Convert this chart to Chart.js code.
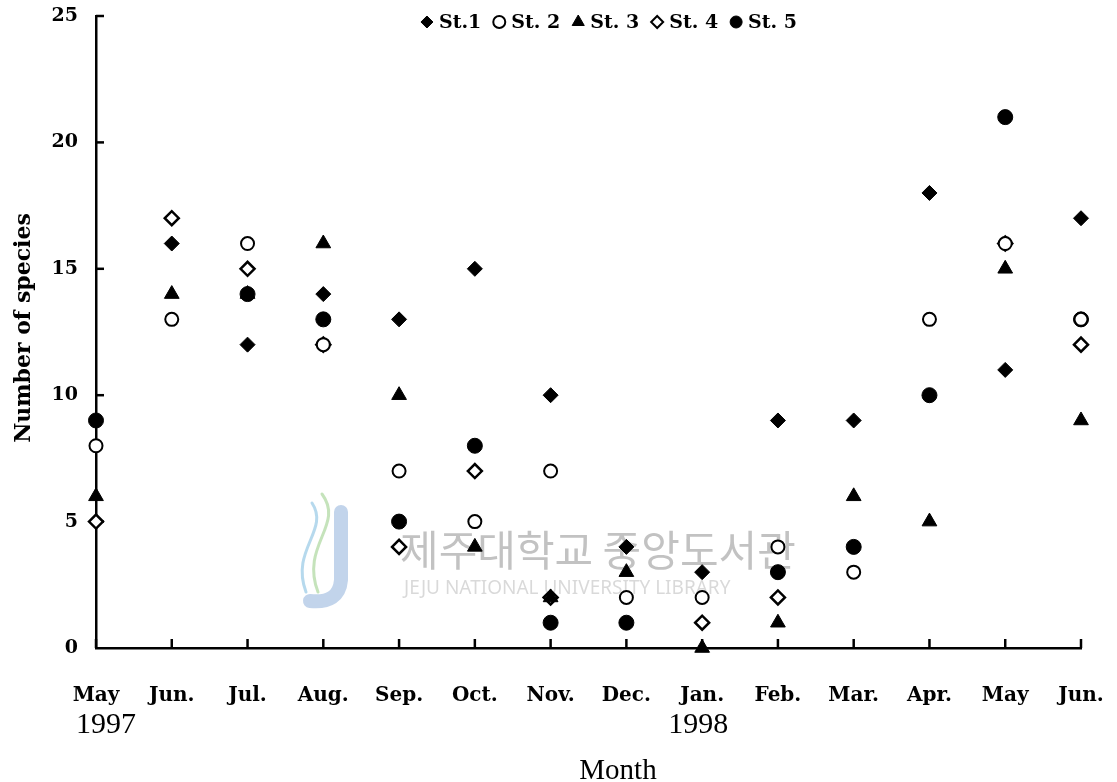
<!DOCTYPE html>
<html>
<head>
<meta charset="utf-8">
<script src="https://cdn.jsdelivr.net/npm/chart.js@4/dist/chart.umd.min.js"></script>
<style>
  html, body { margin: 0; padding: 0; background: #fff; }
  #wrap { width: 1117px; height: 782px; position: relative; }
</style>
</head>
<body>
<div id="wrap"><canvas id="chart"></canvas></div>
<script>
const months = ['May', 'Jun.', 'Jul.', 'Aug.', 'Sep.', 'Oct.', 'Nov.', 'Dec.', 'Jan.', 'Feb.', 'Mar.', 'Apr.', 'May', 'Jun.'];
const years = [['1997', 0], ['1998', 8]];
const yTicks = [0, 5, 10, 15, 20, 25];
const st1 = [null, 16, 12, 14, 13, 15, 10, 4, 3, 9, 9, 18, 11, 17];
const st2 = [8, 13, 16, 12, 7, 5, 7, 2, 2, 4, 3, 13, 16, 13];
const st3 = [6, 14, 14, 16, 10, 4, 2, 3, 0, 1, 6, 5, 15, 9];
const st4 = [5, 17, 15, 12, 4, 7, 2, null, 1, 2, null, null, 16, 12];
const st5 = [9, null, 14, 13, 5, 8, 1, 1, null, 3, 4, 10, 21, 13];

function series(label, data, style, radius, fill, bw) {
    return {
        label, data, showLine: false, clip: false,
        pointStyle: style, pointRadius: radius, pointHoverRadius: radius,
        pointBackgroundColor: fill, pointBorderColor: '#000', pointBorderWidth: bw
    };
}

const datasets = [
    series('St.1', st1, 'rectRot', 7.5, '#000', 1),
    series('St. 2', st2, 'circle', 6.5, '#fff', 2),
    series('St. 3', st3, 'triangle', 8.5, '#000', 1),
    series('St. 4', st4, 'rectRot', 7, '#fff', 2.5),
    series('St. 5', st5, 'circle', 7.5, '#000', 1)
];

function symbol(ctx, ds, x, y, r) {
    const opts = { pointStyle: ds.pointStyle, radius: r, borderWidth: Math.min(ds.pointBorderWidth, 2), rotation: 0 };
    ctx.fillStyle = ds.pointBackgroundColor;
    ctx.strokeStyle = '#000';
    ctx.lineWidth = opts.borderWidth;
    if (Chart.helpers && Chart.helpers.drawPoint) {
        Chart.helpers.drawPoint(ctx, opts, x, y);
    } else {
        ctx.beginPath();
        ctx.arc(x, y, r, 0, Math.PI * 2);
        ctx.fill(); ctx.stroke();
    }
}

const decor = {
    id: 'decor',
    beforeDatasetsDraw(chart) {
        const { ctx, scales: { x, y }, chartArea: a } = chart;
        ctx.save();
        // library watermark
        ctx.lineCap = 'round';
        ctx.strokeStyle = 'rgba(120,160,210,0.45)';
        ctx.lineWidth = 14;
        ctx.beginPath();
        ctx.moveTo(341, 512);
        ctx.lineTo(341, 580);
        ctx.quadraticCurveTo(339, 604, 310, 601);
        ctx.stroke();
        ctx.lineWidth = 3;
        ctx.strokeStyle = 'rgba(140,200,120,0.5)';
        ctx.beginPath();
        ctx.moveTo(322, 494); ctx.bezierCurveTo(345, 525, 300, 545, 318, 592);
        ctx.stroke();
        ctx.strokeStyle = 'rgba(110,180,220,0.5)';
        ctx.beginPath();
        ctx.moveTo(312, 503); ctx.bezierCurveTo(330, 530, 290, 550, 306, 592);
        ctx.stroke();
        ctx.fillStyle = 'rgba(110,110,110,0.42)';
        ctx.font = '42px "Noto Sans CJK KR"';
        ctx.textBaseline = 'middle';
        ctx.fillText('제주대학교 중앙도서관', 400, 550);
        ctx.fillStyle = 'rgba(120,120,120,0.28)';
        ctx.font = '19px "Noto Sans"';
        ctx.fillText('JEJU NATIONAL UNIVERSITY LIBRARY', 404, 589);

        // inward tick marks
        ctx.strokeStyle = '#000';
        ctx.lineWidth = 2.5;
        ctx.lineCap = 'butt';
        months.forEach((m, i) => {
            const px = x.getPixelForValue(i);
            ctx.beginPath(); ctx.moveTo(px, a.bottom); ctx.lineTo(px, a.bottom - 9); ctx.stroke();
        });
        yTicks.forEach(v => {
            if (!v) return;
            const py = y.getPixelForValue(v);
            ctx.beginPath(); ctx.moveTo(a.left, py); ctx.lineTo(a.left + 8, py); ctx.stroke();
        });
        ctx.restore();
    },
    afterDraw(chart) {
        const { ctx, scales: { x } } = chart;
        ctx.save();
        ctx.fillStyle = '#000';
        ctx.textAlign = 'center';
        ctx.textBaseline = 'alphabetic';
        ctx.font = '30px "Liberation Serif"';
        years.forEach(([t, i]) => ctx.fillText(t, x.getPixelForValue(i) + (i === 0 ? 10 : -4), 733));
        ctx.font = '29px "Liberation Serif"';
        ctx.fillText('Month', 618, 779);

        ctx.save();
        ctx.translate(30, 328);
        ctx.rotate(-Math.PI / 2);
        ctx.font = 'bold 22px "DejaVu Serif"';
        ctx.fillText('Number of species', 0, 0);
        ctx.restore();

        // legend across the top of the plot
        ctx.font = 'bold 19px "DejaVu Serif"';
        ctx.textAlign = 'left';
        ctx.textBaseline = 'middle';
        const gap = 12, sym = 12, pad = 6;
        const widths = datasets.map(d => ctx.measureText(d.label).width);
        const total = widths.reduce((s, w) => s + w + sym + pad, 0) + gap * (datasets.length - 1);
        let cx = 609 - total / 2;
        const ly = 22;
        datasets.forEach((d, i) => {
            const r = d.pointStyle === 'triangle' ? 7 : 6;
            symbol(ctx, d, cx + sym / 2, ly, r);
            ctx.fillStyle = '#000';
            ctx.fillText(d.label, cx + sym + pad, ly + 1);
            cx += sym + pad + widths[i] + gap;
        });
        ctx.restore();
    }
};

new Chart(document.getElementById('chart'), {
    type: 'line',
    data: { labels: months, datasets },
    options: {
        responsive: true,
        maintainAspectRatio: false,
        animation: false,
        events: [],
        layout: { padding: { left: 0, right: 36, top: 16, bottom: 0 } },
        plugins: { legend: { display: false }, tooltip: { enabled: false } },
        scales: {
            x: {
                offset: false,
                grid: { display: false },
                border: { display: true, color: '#000', width: 2.5 },
                ticks: { color: '#000', font: { family: 'DejaVu Serif', weight: 'bold', size: 20 }, padding: 28, maxRotation: 0, autoSkip: false },
                afterFit(s) { s.height = 134; s.paddingLeft = 0; s.paddingRight = 0; }
            },
            y: {
                min: 0, max: 25,
                grid: { display: false },
                border: { display: true, color: '#000', width: 2.5 },
                ticks: { stepSize: 5, color: '#000', font: { family: 'DejaVu Serif', weight: 'bold', size: 19 }, padding: 10 },
                afterFit(s) { s.width = 96; s.paddingTop = 0; s.paddingBottom = 0; }
            }
        }
    },
    plugins: [decor]
});
</script>
</body>
</html>
